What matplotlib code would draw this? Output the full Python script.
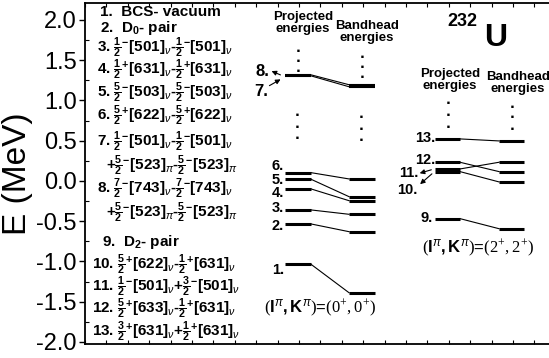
import matplotlib
matplotlib.use("Agg")
import matplotlib.pyplot as plt
from matplotlib.patches import FancyArrowPatch
from matplotlib.ticker import MultipleLocator, FuncFormatter

plt.rcParams["font.family"] = ["Liberation Sans", "DejaVu Sans"]
plt.rcParams["mathtext.fontset"] = "custom"
plt.rcParams["mathtext.rm"] = "Liberation Serif"
plt.rcParams["mathtext.bf"] = "Liberation Sans:bold"
plt.rcParams["mathtext.it"] = "Liberation Sans:italic"
plt.rcParams["mathtext.sf"] = "Liberation Sans:bold"

# level energies (MeV), (0+,0+) band
proj_00 = [-1.035, -0.534, -0.360, -0.099, 0.021, 0.103, 1.318, 1.305]
band_00 = [-1.388, -0.630, -0.414, -0.245, -0.195, 0.025, 1.195, 1.170]
names_00 = ["1.", "2.", "3.", "4.", "5.", "6.", "7.", "8."]

# (2+,2+) band
proj_22 = [-0.468, 0.116, 0.149, 0.232, 0.522]
band_22 = [-0.593, -0.012, 0.232, 0.116, 0.497]
names_22 = ["9.", "10.", "11.", "12.", "13."]


def fr(n, s):
    return r"$\frac{\mathbf{%s}}{\mathbf{2}}^{\mathbf{%s}}$" % (n, s)


nu = r"$_{\nu}$"
pi = r"$_{\pi}$"

items = [
    "1.  BCS- vacuum",
    "2.  D$_{\\mathbf{0}}$- pair",
    "3. " + fr(1, "-") + "[501]" + nu + "-" + fr(1, "-") + "[501]" + nu,
    "4. " + fr(1, "+") + "[631]" + nu + "-" + fr(1, "+") + "[631]" + nu,
    "5. " + fr(5, "-") + "[503]" + nu + "-" + fr(5, "-") + "[503]" + nu,
    "6. " + fr(5, "+") + "[622]" + nu + "-" + fr(5, "+") + "[622]" + nu,
    "7. " + fr(1, "-") + "[501]" + nu + "-" + fr(1, "-") + "[501]" + nu,
    "+" + fr(5, "-") + "[523]" + pi + "-" + fr(5, "-") + "[523]" + pi,
    "8. " + fr(7, "-") + "[743]" + nu + "-" + fr(7, "-") + "[743]" + nu,
    "+" + fr(5, "-") + "[523]" + pi + "-" + fr(5, "-") + "[523]" + pi,
    "9.  D$_{\\mathbf{2}}$- pair",
    "10. " + fr(5, "+") + "[622]" + nu + "-" + fr(1, "+") + "[631]" + nu,
    "11. " + fr(1, "-") + "[501]" + nu + "+" + fr(3, "-") + "[501]" + nu,
    "12. " + fr(5, "+") + "[633]" + nu + "-" + fr(1, "+") + "[631]" + nu,
    "13. " + fr(3, "+") + "[631]" + nu + "+" + fr(1, "+") + "[631]" + nu,
]
item_x = [100, 100, 97, 97, 97, 97, 97, 106, 97, 106, 102, 92, 92, 92, 92]
item_y = [12, 28, 48, 70, 93, 116, 142, 166, 189, 213, 242, 265, 287, 309, 332]

W, H = 549, 358
fig = plt.figure(figsize=(W / 100, H / 100), dpi=100)
ax = fig.add_axes([85 / W, (H - 344) / H, (562 - 85) / W, (344 - 3) / H])


def P(x, y):
    # pixel position (from top-left) -> figure fraction
    return x / W, 1 - y / H


def X(px):
    return px - 85


ax.set_xlim(0, 562 - 85)
ax.set_ylim(-2.025, 2.21)
ax.yaxis.set_major_locator(MultipleLocator(0.5))
ax.yaxis.set_minor_locator(MultipleLocator(0.25))
ax.xaxis.set_major_locator(MultipleLocator(21.4))
ax.tick_params(axis="x", which="both", direction="in", top=True, labelbottom=False, length=3, width=0.8)
ax.tick_params(axis="y", which="major", direction="out", length=4, width=1, labelsize=17, pad=2)
ax.tick_params(axis="y", which="minor", direction="in", length=3, width=0.8)
ax.yaxis.set_major_formatter(FuncFormatter(lambda v, p: f"{v:.1f}"))
for sp in ax.spines.values():
    sp.set_linewidth(1.3)
ax.spines["right"].set_visible(False)
ax.set_ylabel("E (MeV)", fontsize=24, labelpad=2)


def draw_group(proj, band, x0, x1, x2, x3, lw=2.2):
    for p, b in zip(proj, band):
        ax.plot([X(x0), X(x1)], [p, p], color="black", lw=lw, solid_capstyle="butt")
        ax.plot([X(x2), X(x3)], [b, b], color="black", lw=lw, solid_capstyle="butt")
        ax.plot([X(x1), X(x2)], [p, b], color="black", lw=0.8)


draw_group(proj_00[:6], band_00[:6], 285, 311, 349, 375)
draw_group(proj_00[6:], band_00[6:], 285, 311, 349, 375, lw=1.5)
draw_group(proj_22, band_22, 435, 460, 499, 524)

# vertical dots
for xd, ys in [(298, [50, 61, 71]), (362, [57, 66, 76]), (297, [115, 126, 137]),
               (361, [117, 128, 140]), (448, [103, 115, 126]), (512, [107, 117, 128])]:
    for yd in ys:
        fig.text(*P(xd, yd), "■", fontsize=3.5, ha="center", va="center")

lab = dict(fontsize=10.5, fontweight="bold", ha="right", va="center")
for n, yy in zip(names_00[:6], [270, 226, 208, 193, 180, 166]):
    fig.text(*P(284, yy), n, **lab)
for n, xx, yy in zip(names_22, [433, 417, 418, 435, 435], [218, 190, 173, 160, 138]):
    fig.text(*P(xx, yy), n, **lab)
fig.text(*P(269, 71), "8.", fontsize=12, fontweight="bold", ha="right", va="center")
fig.text(*P(268, 91), "7.", fontsize=12, fontweight="bold", ha="right", va="center")

arr = dict(arrowstyle="-|>", color="black", lw=0.8, mutation_scale=7, transform=fig.transFigure)
fig.add_artist(FancyArrowPatch(P(283, 76), P(269, 70), **arr))
fig.add_artist(FancyArrowPatch(P(267, 87), P(283, 78), **arr))
fig.add_artist(FancyArrowPatch(P(434, 169), P(417, 174), **arr))
fig.add_artist(FancyArrowPatch(P(434, 172), P(418, 186), **arr))

# headers
hdr = dict(fontsize=9.5, fontweight="bold", ha="center", va="center", linespacing=0.9)
fig.text(*P(303, 23), "Projected\nenergies", **hdr)
fig.text(*P(367, 32), "Bandhead\nenergies", **hdr)
fig.text(*P(450, 80), "Projected\nenergies", **hdr)
fig.text(*P(518, 83), "Bandhead\nenergies", **hdr)
fig.text(*P(462, 22), "232", fontsize=13, fontweight="bold", ha="center", va="center")
fig.text(*P(496, 38), "U", fontsize=23, fontweight="bold", ha="center", va="center")

fig.text(*P(320, 308), r"$(\mathbf{I}^{\pi}\mathbf{,K}^{\pi})$=$(0^{+},0^{+})$", fontsize=12, ha="center", va="center")
fig.text(*P(478, 248), r"$(\mathbf{I}^{\pi}\mathbf{,K}^{\pi})$=$(2^{+},2^{+})$", fontsize=12, ha="center", va="center")

for s, xx, yy in zip(items, item_x, item_y):
    fig.text(*P(xx, yy), s, fontsize=11, fontweight="bold", ha="left", va="center")

fig.savefig("out.png", dpi=100)
